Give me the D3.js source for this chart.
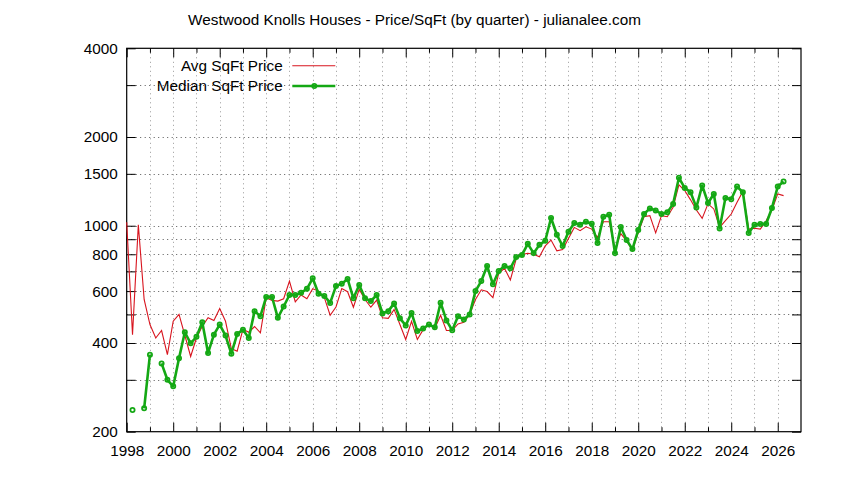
<!DOCTYPE html>
<html>
<head>
<meta charset="utf-8">
<script src="https://cdn.jsdelivr.net/npm/d3@7"></script>
<style>
  html, body { margin: 0; padding: 0; background: #fff; }
  svg { display: block; font-family: "Liberation Sans", Arial, sans-serif; }
</style>
</head>
<body>
<svg id="chart" width="844" height="480"></svg>
<script>
// ---------- data (quarterly, starting 1998 Q1) ----------
const startYear = 1998;
const avgSqFt = [
  1027, 427, 1008, 562,   // 1998
  462, 416, 441, 365,     // 1999
  474, 500, 425, 360,     // 2000
  416, 456, 487, 477,     // 2001
  524, 474, 383, 375,     // 2002
  445, 435, 455, 433,     // 2003
  570, 558, 555, 565,     // 2004
  649, 552, 582, 565,     // 2005
  611, 600, 570, 497,     // 2006
  530, 612, 597, 529,     // 2007
  608, 562, 529, 559,     // 2008
  487, 485, 520, 462,     // 2009
  411, 474, 411, 444,     // 2010
  462, 448, 497, 441,     // 2011
  441, 464, 470, 500,     // 2012
  562, 606, 598, 570,     // 2013
  690, 717, 655, 770,     // 2014
  798, 806, 800, 785,     // 2015
  854, 894, 822, 830,     // 2016
  905, 987, 962, 992,     // 2017
  974, 912, 1032, 1032,   // 2018
  833, 940, 889, 825,     // 2019
  948, 1073, 1082, 946,   // 2020
  1082, 1073, 1154, 1376, // 2021
  1316, 1224, 1130, 1059, // 2022
  1186, 1140, 987, 1040,  // 2023
  1096, 1201, 1306, 974,  // 2024
  980, 974, 1040, 1130,   // 2025
  1282, 1265              // 2026
];
const medianSqFt = [
  null, 237, null, 240,   // 1998
  365, null, 341, 300,    // 1999
  285, 355, 435, 399,     // 2000
  420, 470, 370, 427,     // 2001
  462, 424, 368, 429,     // 2002
  444, 416, 513, 493,     // 2003
  573, 573, 487, 532,     // 2004
  582, 582, 592, 611,     // 2005
  663, 588, 578, 547,     // 2006
  624, 636, 660, 567,     // 2007
  629, 567, 555, 582,     // 2008
  504, 513, 545, 485,     // 2009
  459, 506, 439, 448,     // 2010
  462, 452, 548, 477,     // 2011
  442, 493, 481, 500,     // 2012
  600, 649, 730, 633,     // 2013
  702, 730, 717, 783,     // 2014
  796, 868, 807, 861,     // 2015
  889, 1062, 932, 853,    // 2016
  954, 1021, 1008, 1032,  // 2017
  1015, 873, 1073, 1090,  // 2018
  807, 990, 894, 833,     // 2019
  967, 1096, 1145, 1127,  // 2020
  1096, 1110, 1186, 1454, // 2021
  1344, 1299, 1154, 1369, // 2022
  1195, 1282, 979, 1243,  // 2023
  1230, 1358, 1299, 944,  // 2024
  1008, 1014, 1014, 1149, // 2025
  1358, 1413              // 2026
];
const yTickValues = [200, 300, 400, 500, 600, 700, 800, 900, 1000, 1500, 2000, 3000, 4000];
const yTickLabels = {200: "200", 400: "400", 600: "600", 800: "800", 1000: "1000", 1500: "1500", 2000: "2000", 4000: "4000"};
const xMajorYears = [1998, 2000, 2002, 2004, 2006, 2008, 2010, 2012, 2014, 2016, 2018, 2020, 2022, 2024, 2026];
const xMinorYears = [1999, 2001, 2003, 2005, 2007, 2009, 2011, 2013, 2015, 2017, 2019, 2021, 2023, 2025];
const titleText = "Westwood Knolls Houses - Price/SqFt (by quarter) - julianalee.com";
const seriesNames = ["Avg SqFt Price", "Median SqFt Price"];

// ---------- layout ----------
const L = 126.7, R = 801, T = 48.3, B = 431.7;
const redColor = "#d8141e", greenColor = "#14a814";
const svg = d3.select("#chart");

const x = d3.scaleLinear().domain([1998, 2027]).range([L, R]);
const y = d3.scaleLog().domain([200, 4000]).range([B, T]);

const avgData = avgSqFt.map((v, i) => ({t: startYear + i / 4, v}));
const medData = medianSqFt.map((v, i) => ({t: startYear + i / 4, v}));

// grid
const grid = svg.append("g").attr("stroke", "#8a8a8a").attr("stroke-width", 1)
  .attr("stroke-dasharray", "1,3.5").attr("fill", "none");
grid.selectAll("line.h").data(yTickValues.filter(v => v > 200 && v < 4000)).join("line")
  .attr("x1", L).attr("x2", R).attr("y1", d => Math.round(y(d)) + 0.5).attr("y2", d => Math.round(y(d)) + 0.5)
  .attr("stroke", "#555");
grid.selectAll("line.v").data(xMajorYears.concat(xMinorYears).filter(v => v > 1998)).join("line")
  .attr("y1", T).attr("y2", B).attr("x1", d => Math.round(x(d)) + 0.5).attr("x2", d => Math.round(x(d)) + 0.5)
  .attr("stroke", "#999");

// axes
const fontSize = "15.3px";
function styleAxis(g) {
  g.select(".domain").remove();
  g.selectAll(".tick line").attr("stroke", "#000").attr("stroke-width", 1);
  g.selectAll(".tick text").attr("fill", "#000").style("font-size", fontSize);
}
svg.append("g").attr("transform", `translate(${L},0)`)
  .call(d3.axisLeft(y).tickValues(yTickValues).tickSizeInner(-9).tickSizeOuter(0).tickPadding(9)
    .tickFormat(d => yTickLabels[d] || ""))
  .call(styleAxis);
svg.append("g").attr("transform", `translate(${R},0)`)
  .call(d3.axisRight(y).tickValues(yTickValues).tickSizeInner(-9).tickSizeOuter(0).tickFormat(""))
  .call(styleAxis);
svg.append("g").attr("transform", `translate(0,${B})`)
  .call(d3.axisBottom(x).tickValues(xMajorYears).tickSizeInner(-9).tickSizeOuter(0).tickPadding(13)
    .tickFormat(d3.format("d")))
  .call(styleAxis);
svg.append("g").attr("transform", `translate(0,${B})`)
  .call(d3.axisBottom(x).tickValues(xMinorYears).tickSizeInner(-4.5).tickSizeOuter(0).tickFormat(""))
  .call(styleAxis);
svg.append("g").attr("transform", `translate(0,${T})`)
  .call(d3.axisTop(x).tickValues(xMajorYears).tickSizeInner(-9).tickSizeOuter(0).tickFormat(""))
  .call(styleAxis);
svg.append("g").attr("transform", `translate(0,${T})`)
  .call(d3.axisTop(x).tickValues(xMinorYears).tickSizeInner(-4.5).tickSizeOuter(0).tickFormat(""))
  .call(styleAxis);

// border
svg.append("rect").attr("x", L).attr("y", T).attr("width", R - L).attr("height", B - T)
  .attr("fill", "none").attr("stroke", "#000").attr("stroke-width", 1.2);

// series
const line = d3.line().defined(d => d.v != null).x(d => x(d.t)).y(d => y(d.v));
svg.append("path").datum(avgData).attr("d", line)
  .attr("fill", "none").attr("stroke", redColor).attr("stroke-width", 1.1);
svg.append("path").datum(medData).attr("d", line)
  .attr("fill", "none").attr("stroke", greenColor).attr("stroke-width", 2.6).attr("stroke-linejoin", "round");
svg.append("g").selectAll("circle").data(medData.filter(d => d.v != null)).join("circle")
  .attr("cx", d => x(d.t)).attr("cy", d => y(d.v)).attr("r", 2.1)
  .attr("fill", "none").attr("stroke", greenColor).attr("stroke-width", 1.8);

// title
svg.append("text").attr("x", 414.5).attr("y", 24.5).attr("text-anchor", "middle")
  .style("font-size", fontSize).attr("fill", "#000").text(titleText);

// legend
const legend = svg.append("g");
const legY = [65.7, 86];
legend.selectAll("text").data(seriesNames).join("text")
  .attr("x", 282.7).attr("y", (d, i) => legY[i]).attr("dy", "0.35em").attr("text-anchor", "end")
  .style("font-size", fontSize).attr("fill", "#000").text(d => d);
legend.append("line").attr("x1", 292.3).attr("x2", 335.3).attr("y1", legY[0]).attr("y2", legY[0])
  .attr("stroke", redColor).attr("stroke-width", 1.1);
legend.append("line").attr("x1", 292.3).attr("x2", 335.3).attr("y1", legY[1]).attr("y2", legY[1])
  .attr("stroke", greenColor).attr("stroke-width", 2.6);
legend.append("circle").attr("cx", 314.3).attr("cy", legY[1]).attr("r", 2.1)
  .attr("fill", "none").attr("stroke", greenColor).attr("stroke-width", 1.8);
</script>
</body>
</html>
